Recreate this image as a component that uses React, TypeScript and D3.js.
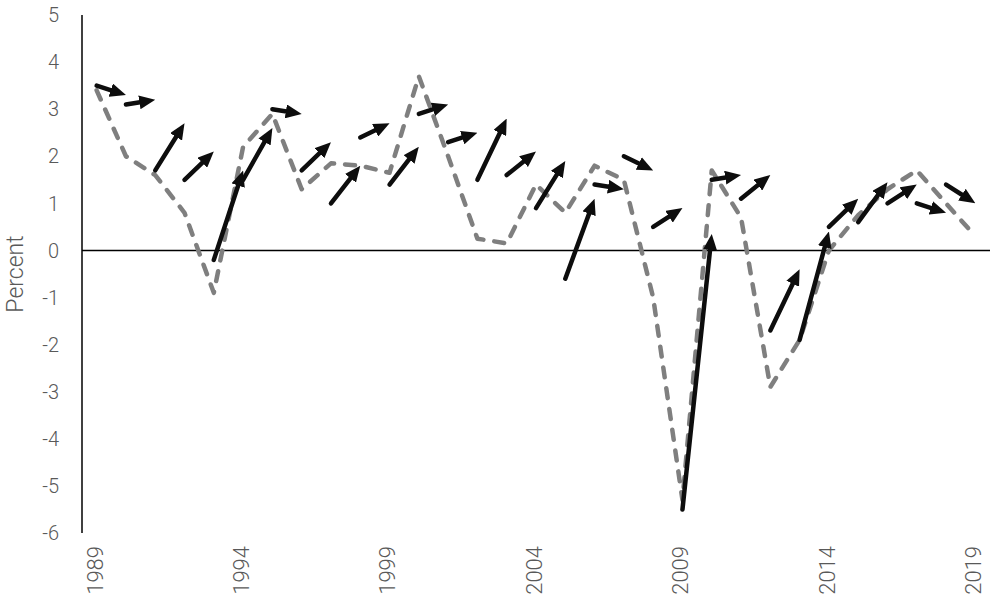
import React, { ReactElement, useEffect, useRef } from "react";
import * as d3 from "d3";

// years on the category axis
const years: number[] = d3.range(1989, 2020);

// actual growth, one per year (dashed grey line)
const actual: number[] = [
  3.4, 2.0, 1.6, 0.8, -0.9, 2.2, 2.9, 1.3, 1.85, 1.8, 1.65, 3.7, 2.0, 0.25, 0.15,
  1.4, 0.8, 1.8, 1.5, -1.0, -5.3, 1.7, 0.7, -2.9, -1.9, 0.0, 0.75, 1.3, 1.7, 1.0,
  0.3,
];

// forecast arrows: start value at year t, end value at year t + 1
const arrowFrom: number[] = [
  3.5, 3.1, 1.7, 1.5, -0.2, 1.5, 3.0, 1.7, 1.0, 2.4, 1.4, 2.9, 2.3, 1.5, 1.6,
  0.9, -0.6, 1.4, 2.0, 0.5, -5.5, 1.5, 1.1, -1.7, -1.9, 0.5, 0.6, 1.0, 1.0, 1.4,
];
const arrowTo: number[] = [
  3.3, 3.2, 2.7, 2.1, 1.7, 2.6, 2.9, 2.3, 1.8, 2.7, 2.2, 3.1, 2.5, 2.8, 2.1,
  1.9, 1.1, 1.3, 1.7, 0.9, 0.35, 1.6, 1.6, -0.4, 0.4, 1.1, 1.45, 1.4, 0.8, 1.0,
];

const yTicks: number[] = d3.range(-6, 6);
const xTickYears: number[] = [1989, 1994, 1999, 2004, 2009, 2014, 2019];

function App(): ReactElement {
  const ref = useRef<SVGSVGElement>(null);

  useEffect(() => {
    drawChart();
  }, []);

  const drawChart = () => {
    const width = 993;
    const height = 594;
    const left = 82;
    const right = 990;
    const top = 15;
    const bottom = 533;
    const font = "Roboto, 'Open Sans', sans-serif";

    const svg = d3.select(ref.current).attr("width", width).attr("height", height);
    svg.selectAll("*").remove();

    const x = d3
      .scaleBand<string>()
      .domain(years.map(String))
      .range([left, right]);
    const cx = (yr: number) => (x(String(yr)) || 0) + x.bandwidth() / 2;
    const y = d3.scaleLinear().domain([-6, 5]).range([bottom, top]);

    svg
      .append("defs")
      .append("marker")
      .attr("id", "head")
      .attr("markerUnits", "userSpaceOnUse")
      .attr("viewBox", "0 0 16 14")
      .attr("markerWidth", 16)
      .attr("markerHeight", 14)
      .attr("refX", 7)
      .attr("refY", 7)
      .attr("orient", "auto")
      .append("path")
      .attr("d", "M0,0 L16,7 L0,14 Z")
      .attr("fill", "#0d0d0d");

    // y axis line
    svg
      .append("line")
      .attr("x1", left)
      .attr("x2", left)
      .attr("y1", y(5))
      .attr("y2", y(-6))
      .attr("stroke", "#000")
      .attr("stroke-width", 1.5);

    // zero line
    svg
      .append("line")
      .attr("x1", left)
      .attr("x2", right)
      .attr("y1", y(0))
      .attr("y2", y(0))
      .attr("stroke", "#000")
      .attr("stroke-width", 1.5);

    // y tick labels
    svg
      .selectAll(".ytick")
      .data(yTicks)
      .enter()
      .append("text")
      .attr("class", "ytick")
      .attr("x", 59)
      .attr("y", (d) => y(d))
      .attr("dy", "0.36em")
      .attr("text-anchor", "end")
      .attr("font-family", font)
      .attr("font-weight", 300)
      .attr("font-size", 20)
      .attr("fill", "#595959")
      .text((d) => String(d));

    // x tick labels, rotated
    svg
      .selectAll(".xtick")
      .data(xTickYears)
      .enter()
      .append("text")
      .attr("class", "xtick")
      .attr("transform", (d) => `translate(${cx(d) - 2},546) rotate(-90)`)
      .attr("dy", "0.36em")
      .attr("text-anchor", "end")
      .attr("font-family", font)
      .attr("font-weight", 300)
      .attr("font-size", 22)
      .attr("fill", "#595959")
      .text((d) => String(d));

    // axis title
    svg
      .append("text")
      .attr("transform", `translate(23,${(top + bottom) / 2}) rotate(-90)`)
      .attr("text-anchor", "middle")
      .attr("font-family", font)
      .attr("font-weight", 300)
      .attr("font-size", 23)
      .attr("fill", "#595959")
      .text("Percent");

    // actual line
    const line = d3
      .line<number>()
      .x((_, i) => cx(years[i]))
      .y((d) => y(d));
    svg
      .append("path")
      .datum(actual)
      .attr("d", line)
      .attr("fill", "none")
      .attr("stroke", "#7f7f7f")
      .attr("stroke-width", 4.5)
      .attr("stroke-dasharray", "10 11")
      .attr("stroke-linecap", "round")
      .attr("stroke-linejoin", "round");

    // forecast arrows
    const arrows = arrowFrom.map((v, i) => {
      const x1 = cx(years[i]);
      const y1 = y(v);
      const x2 = cx(years[i + 1]);
      const y2 = y(arrowTo[i]);
      const len = Math.hypot(x2 - x1, y2 - y1);
      const k = (len - 9) / len;
      return { x1, y1, x2: x1 + (x2 - x1) * k, y2: y1 + (y2 - y1) * k };
    });
    svg
      .selectAll(".arrow")
      .data(arrows)
      .enter()
      .append("line")
      .attr("class", "arrow")
      .attr("x1", (d) => d.x1)
      .attr("y1", (d) => d.y1)
      .attr("x2", (d) => d.x2)
      .attr("y2", (d) => d.y2)
      .attr("stroke", "#0d0d0d")
      .attr("stroke-width", 4.5)
      .attr("stroke-linecap", "round")
      .attr("marker-end", "url(#head)");
  };

  return (
    <div>
      <svg ref={ref} style={{ position: "absolute", left: 0, top: 0 }}></svg>
    </div>
  );
}

export default App;
